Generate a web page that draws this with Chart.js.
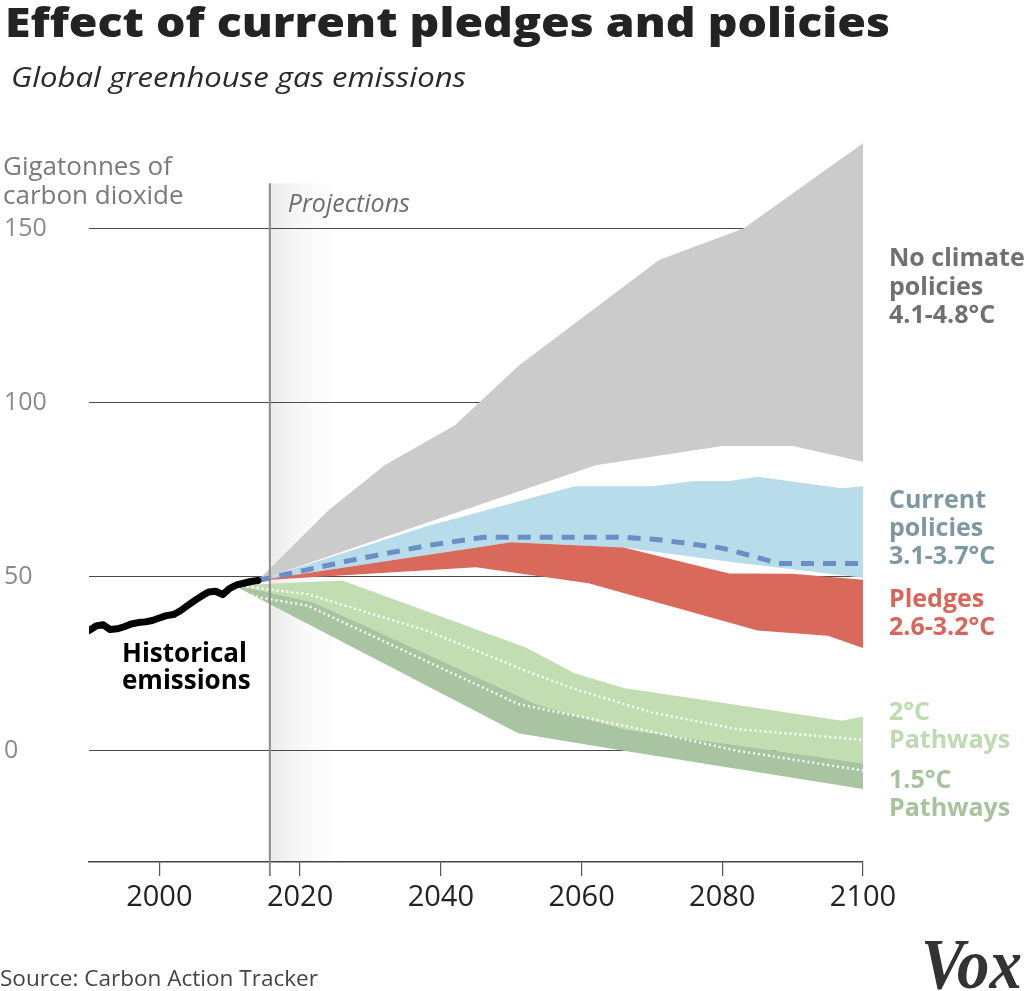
<!DOCTYPE html>
<html>
<head>
<meta charset="utf-8">
<title>Effect of current pledges and policies</title>
<script src="https://cdn.jsdelivr.net/npm/chart.js@4.4.1/dist/chart.umd.min.js"></script>
<style>
  body { margin: 0; background: #fff; }
  #wrap { position: relative; width: 1024px; height: 991px; overflow: hidden; font-family: "Open Sans", sans-serif; }
  #chart { position: absolute; left: 0; top: 0; }
  .t { position: absolute; white-space: nowrap; line-height: 1; transform-origin: 0 0; }
  #title { left: 5px; top: 1px; font-size: 41px; font-weight: 800; color: #232323; }
  #subtitle { left: 11px; top: 62px; font-size: 28px; font-style: italic; color: #2a2a2a; }
  #unit { left: 3px; top: 151px; font-size: 26px; line-height: 29px; color: #7a7a7a; }
  #source { left: 0px; top: 968px; font-size: 21px; color: #444; }
  #vox { left: 921px; top: 928px; font-family: "Liberation Serif", serif; font-size: 72px; font-weight: bold; font-style: italic; color: #333; }
</style>
</head>
<body>
<div id="wrap">
  <canvas id="chart" width="1024" height="991"></canvas>
  <div class="t" id="title" data-w="885">Effect of current pledges and policies</div>
  <div class="t" id="subtitle" data-w="455">Global greenhouse gas emissions</div>
  <div class="t" id="unit">Gigatonnes of<br>carbon dioxide</div>
  <div class="t" id="source" data-w="318">Source: Carbon Action Tracker</div>
  <div class="t" id="vox" data-w="101">Vox</div>
</div>
<script>
// axis ticks
const xTicks = [2000, 2020, 2040, 2060, 2080, 2100];
const yTicks = [0, 50, 100, 150];

// historical emissions (Gt CO2)
const histYears = [1990, 1991, 1992, 1993, 1994, 1995, 1996, 1997, 1998, 1999, 2000, 2001, 2002,
                   2003, 2004, 2005, 2006, 2007, 2008, 2009, 2010, 2011, 2012, 2013, 2014];
const histValues = [34.5, 35.8, 36.2, 34.8, 35.0, 35.6, 36.4, 36.8, 37.0, 37.4, 38.1, 38.8, 39.1,
                    40.2, 41.7, 43.1, 44.4, 45.6, 45.8, 44.8, 46.6, 47.6, 48.1, 48.6, 48.9];

// no climate policies range
const grayHighYears = [2014, 2024, 2032, 2042, 2051, 2071, 2083, 2100];
const grayHighValues = [48.9, 69, 82, 93.5, 110.5, 141, 150, 174.5];
const grayLowYears = [2014, 2038, 2062, 2080, 2090, 2100];
const grayLowValues = [48.9, 65.5, 82, 87.5, 87.5, 83];

// current policies range + median
const blueHighYears = [2014, 2038, 2059, 2070, 2076, 2081, 2085, 2097, 2100];
const blueHighValues = [48.9, 64.5, 76, 76, 77.5, 77.5, 78.7, 75.4, 76];
const blueLowYears = [2014, 2050, 2066, 2081, 2100];
const blueLowValues = [48.9, 59.9, 58.4, 54.3, 49.7];
const blueMidYears = [2014, 2027, 2038, 2046, 2066, 2071, 2080, 2085, 2088, 2100];
const blueMidValues = [48.9, 54.6, 58.9, 61.3, 61.3, 60.6, 58.2, 55.5, 53.8, 53.8];

// pledges range
const redHighYears = [2014, 2050, 2066, 2081, 2090, 2100];
const redHighValues = [48.9, 59.9, 58.4, 50.9, 50.8, 49.1];
const redLowYears = [2014, 2045, 2061, 2085, 2095, 2100];
const redLowValues = [48.9, 52.7, 48.1, 34.5, 33.0, 29.5];

// 2°C pathways (upper edge) and 1.5°C pathways
const green2HighYears = [2011, 2026, 2052, 2059, 2066, 2097, 2100];
const green2HighValues = [47.5, 48.9, 29.7, 22.2, 18.0, 8.6, 9.8];
const green15HighYears = [2011, 2022, 2053.5, 2066, 2100];
const green15HighValues = [47.5, 42.6, 13.4, 6.2, -3.6];
const green15LowYears = [2011, 2051, 2066, 2100];
const green15LowValues = [47.0, 5.0, 0, -11.0];
const med2Years = [2011, 2016, 2021, 2038, 2052, 2059, 2070, 2082, 2100];
const med2Values = [47.4, 46.2, 45.0, 34.5, 23.0, 17.7, 11.0, 6.2, 3.1];
const med15Years = [2011, 2014, 2021, 2051, 2066, 2082, 2100];
const med15Values = [46.0, 44.1, 41.7, 13.4, 7.2, 0, -5.7];

const projStart = 2015.7;
const projFadeEnd = 2027.8;
const projTop = 163;

// squeeze/stretch heading texts to the widths seen in the original
document.querySelectorAll('[data-w]').forEach(el => {
  const w = el.getBoundingClientRect().width;
  el.style.transform = 'scaleX(' + (Number(el.dataset.w) / w) + ')';
});

function pts(xs, ys) {
  return xs.map((x, i) => ({ x: x, y: ys[i] }));
}

function series(label, xs, ys, extra) {
  return Object.assign({
    label: label,
    data: pts(xs, ys),
    borderWidth: 0,
    pointRadius: 0,
    tension: 0,
    fill: false
  }, extra);
}

const datasets = [
  series('No policies low', grayLowYears, grayLowValues, { order: 8 }),
  series('No policies high', grayHighYears, grayHighValues, { order: 8, fill: '-1', backgroundColor: '#cbcbcb' }),
  series('Current policies low', blueLowYears, blueLowValues, { order: 7 }),
  series('Current policies high', blueHighYears, blueHighValues, { order: 7, fill: '-1', backgroundColor: '#b9dcea' }),
  series('Pledges low', redLowYears, redLowValues, { order: 6 }),
  series('Pledges high', redHighYears, redHighValues, { order: 6, fill: '-1', backgroundColor: '#d9695a' }),
  series('1.5C low', green15LowYears, green15LowValues, { order: 4 }),
  series('1.5C high', green15HighYears, green15HighValues, { order: 4, fill: '-1', backgroundColor: '#a9c4a0' }),
  series('2C high', green2HighYears, green2HighValues, { order: 5, fill: '-1', backgroundColor: '#c2ddb1' }),
  series('Current policies median', blueMidYears, blueMidValues, { order: 3, borderWidth: 5, borderColor: '#6b8fc4', borderDash: [13, 9] }),
  series('2C median', med2Years, med2Values, { order: 2, borderWidth: 2.5, borderColor: 'rgba(255,255,255,0.9)', borderDash: [2, 3] }),
  series('1.5C median', med15Years, med15Values, { order: 2, borderWidth: 2.5, borderColor: 'rgba(255,255,255,0.9)', borderDash: [2, 3] }),
  series('Historical', histYears, histValues, { order: 1, borderWidth: 7, borderColor: '#000', borderCapStyle: 'round', borderJoinStyle: 'round' })
];

function drawLines(ctx, lines, x, baselines, font, color) {
  ctx.font = font;
  ctx.fillStyle = color;
  ctx.textAlign = 'left';
  ctx.textBaseline = 'alphabetic';
  lines.forEach((s, i) => ctx.fillText(s, x, baselines[i]));
}

const annotate = {
  id: 'annotate',
  beforeDraw(chart) {
    const { ctx, chartArea, scales } = chart;
    const x0 = scales.x.getPixelForValue(projStart);
    const x1 = scales.x.getPixelForValue(projFadeEnd);
    const top = scales.y.getPixelForValue(projTop);
    const g = ctx.createLinearGradient(x0, 0, x1, 0);
    g.addColorStop(0, '#ebebeb');
    g.addColorStop(1, 'rgba(255,255,255,0)');
    ctx.save();
    ctx.fillStyle = g;
    ctx.fillRect(x0, top, x1 - x0, chartArea.bottom - top);
    ctx.restore();
  },
  afterDraw(chart) {
    const { ctx, chartArea, scales } = chart;
    const px = scales.x.getPixelForValue(projStart);
    ctx.save();
    ctx.strokeStyle = '#8a8a8a';
    ctx.lineWidth = 2;
    ctx.beginPath();
    ctx.moveTo(px, scales.y.getPixelForValue(projTop));
    ctx.lineTo(px, chartArea.bottom + 14);
    ctx.stroke();

    drawLines(ctx, ['Projections'], px + 18, [212], 'italic 25px "Open Sans"', '#6e6e6e');
    drawLines(ctx, ['Historical', 'emissions'], 122, [661.5, 688.5], 'bold 26px "Open Sans"', '#000');

    const rx = chartArea.right + 26;
    const f = 'bold 25px "Open Sans"';
    drawLines(ctx, ['No climate', 'policies', '4.1-4.8°C'], rx, [266, 294.5, 322.5], f, '#707070');
    drawLines(ctx, ['Current', 'policies', '3.1-3.7°C'], rx, [507.5, 535.5, 563.5], f, '#7d97a3');
    drawLines(ctx, ['Pledges', '2.6-3.2°C'], rx, [607, 635], f, '#d9655a');
    drawLines(ctx, ['2°C', 'Pathways'], rx, [720, 748], f, '#bddab0');
    drawLines(ctx, ['1.5°C', 'Pathways'], rx, [788, 816], f, '#a8c29d');
    ctx.restore();
  }
};

new Chart(document.getElementById('chart'), {
  type: 'line',
  data: { datasets: datasets },
  plugins: [annotate],
  options: {
    responsive: false,
    animation: false,
    layout: { padding: { left: 4, right: 161, top: 141.6, bottom: 0 } },
    plugins: { legend: { display: false }, tooltip: { enabled: false } },
    scales: {
      x: {
        type: 'linear',
        min: 1990,
        max: 2100,
        afterBuildTicks: s => { s.ticks = xTicks.map(v => ({ value: v })); },
        afterFit: s => { s.height = 129; },
        border: { display: true, color: '#444', width: 1.5 },
        grid: { drawOnChartArea: false, drawTicks: true, tickLength: 14, color: '#555', lineWidth: 1.2 },
        ticks: { color: '#222', font: { family: 'Open Sans', size: 29 }, padding: 4, autoSkip: false, maxRotation: 0,
                 callback: v => String(v) }
      },
      y: {
        min: -32,
        max: 175,
        z: 1,
        afterBuildTicks: s => { s.ticks = yTicks.map(v => ({ value: v })); },
        afterFit: s => { s.width = 85; },
        border: { display: false },
        grid: { color: '#4a4a4a', lineWidth: 1.1, drawTicks: false },
        ticks: { crossAlign: 'far', color: '#8a8a8a', font: { family: 'Open Sans', size: 25 }, padding: 0 }
      }
    }
  }
});
</script>
</body>
</html>
